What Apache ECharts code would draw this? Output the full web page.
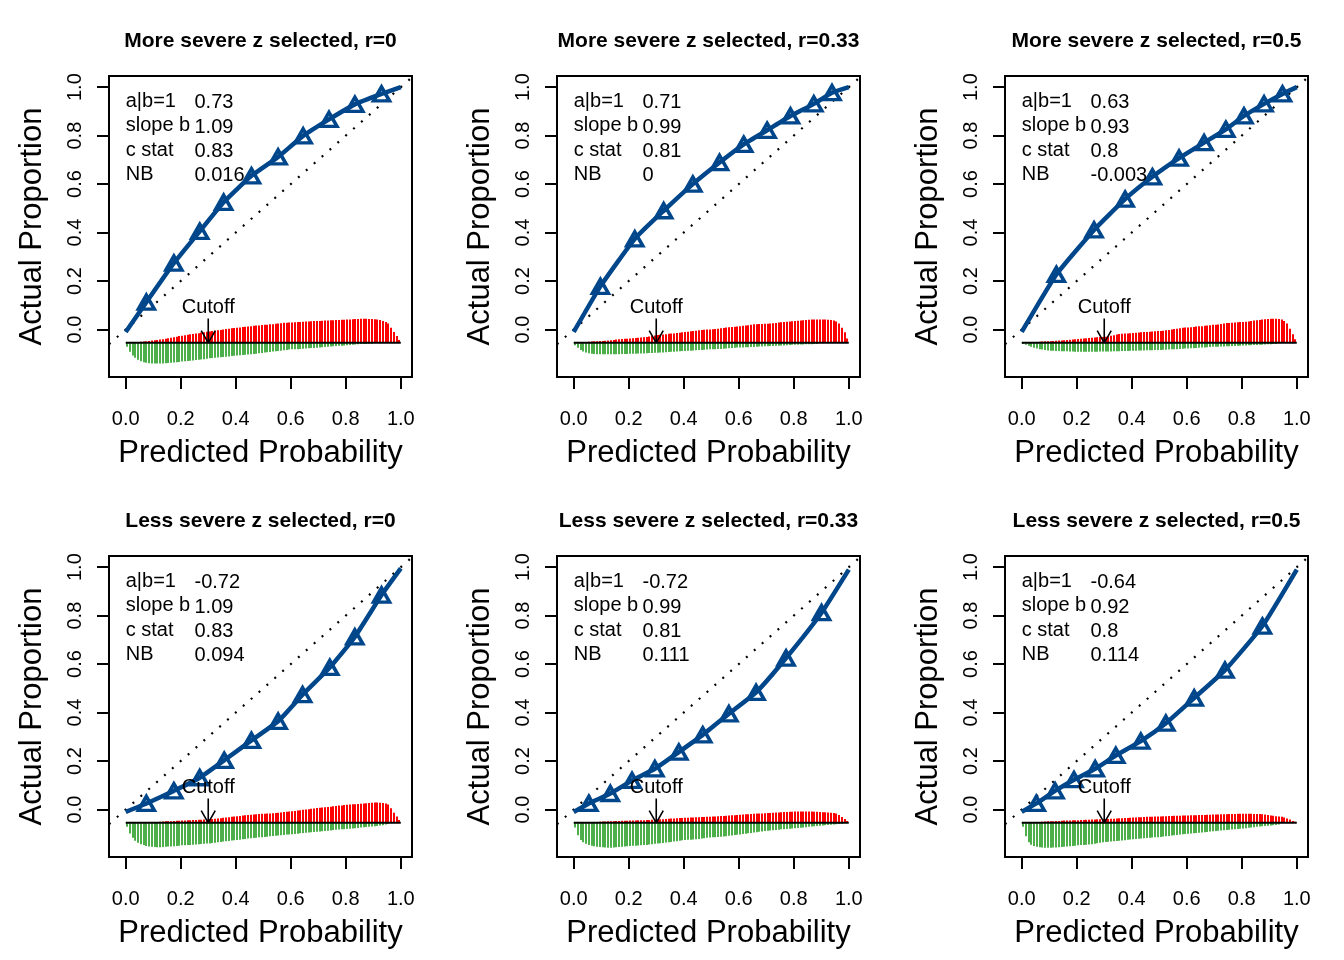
<!DOCTYPE html>
<html><head><meta charset="utf-8">
<script src="https://cdn.jsdelivr.net/npm/echarts@6/dist/echarts.min.js"></script>
<style>html,body{margin:0;padding:0;background:#fff}#c{width:1344px;height:960px}</style>
</head><body><div id="c"></div>
<script>
// ---------- DATA ----------
const titles = ['More severe z selected, r=0','More severe z selected, r=0.33','More severe z selected, r=0.5',
                'Less severe z selected, r=0','Less severe z selected, r=0.33','Less severe z selected, r=0.5'];
const statNames = ['a|b=1','slope b','c stat','NB'];
const aVals = ['0.73','0.71','0.63','-0.72','-0.72','-0.64'];
const slopeVals = ['1.09','0.99','0.93','1.09','0.99','0.92'];
const cVals = ['0.83','0.81','0.8','0.83','0.81','0.8'];
const nbVals = ['0.016','0','-0.003','0.094','0.111','0.114'];
const tickVals = [0, 0.2, 0.4, 0.6, 0.8, 1.0];
const cutoff = 0.3;

// grouped observations (triangles), x = predicted, y = actual
const tri1 = [[0.075,0.113],[0.175,0.274],[0.269,0.405],[0.356,0.525],[0.457,0.634],[0.554,0.712],[0.645,0.799],[0.739,0.867],[0.833,0.929],[0.930,0.972]];
const tri2 = [[0.097,0.178],[0.222,0.374],[0.327,0.490],[0.433,0.600],[0.530,0.689],[0.618,0.764],[0.703,0.822],[0.788,0.881],[0.873,0.931],[0.939,0.977]];
const tri3 = [[0.126,0.227],[0.263,0.411],[0.376,0.538],[0.475,0.630],[0.572,0.707],[0.663,0.771],[0.742,0.826],[0.808,0.881],[0.881,0.931],[0.948,0.972]];
const tri4 = [[0.075,0.025],[0.175,0.077],[0.269,0.131],[0.358,0.203],[0.457,0.285],[0.554,0.364],[0.643,0.474],[0.742,0.586],[0.833,0.712],[0.930,0.885]];
const tri5 = [[0.055,0.025],[0.133,0.066],[0.212,0.120],[0.295,0.168],[0.382,0.237],[0.469,0.308],[0.564,0.395],[0.663,0.483],[0.772,0.625],[0.901,0.812]];
const tri6 = [[0.053,0.025],[0.121,0.077],[0.190,0.123],[0.267,0.168],[0.342,0.223],[0.433,0.282],[0.524,0.356],[0.627,0.460],[0.739,0.575],[0.875,0.757]];
const curveStart = [[0,-0.01],[0,-0.01],[0,-0.01],[0,-0.01],[0,-0.01],[0,-0.01]];
const curveEnd = [[1,1.0],[1,1.0],[1,1.0],[1,0.995],[1,0.99],[1,0.99]];

// histogram heights per 0.01 bin (thousandths of y units); red = events above, green = non-events below
const red1 = [0,0,1,2,3,4,5,6,8,10, 11,12,14,15,17,19,21,23,25,28, 29,31,33,35,36,38,40,43,44,46, 47,49,50,52,53,55,57,58,60,61,
  62,63,65,66,67,68,70,71,72,74, 75,75,77,77,79,80,81,83,83,84, 84,85,86,86,87,88,88,89,90,90, 90,91,92,92,93,93,94,94,95,95,
  96,96,97,98,98,99,99,99,98,98, 97,96,94,90,86,80,62,45,28,12];
const green1 = [16,37,52,62,70,76,80,82,84,85, 85,85,85,85,84,83,82,81,80,79, 77,76,75,74,73,71,70,69,68,66, 64,63,62,61,59,58,57,56,54,53,
  52,51,50,49,48,47,46,45,43,42, 40,39,38,36,35,34,33,31,30,28, 27,26,26,25,24,23,22,21,21,20, 19,18,17,16,15,14,13,12,12,11,
  10,9,8,7,6,5,5,5,4,4, 0,0,0,0,0,0,0,0,0,0];
const red2 = [0,0,1,2,3,4,5,6,7,8, 8,9,10,11,12,14,15,16,17,17, 18,19,20,21,22,23,24,26,28,30, 32,33,34,35,37,38,39,41,42,44,
  45,46,48,49,50,52,53,54,55,55, 56,57,58,60,61,63,64,65,66,67, 68,70,72,73,75,77,77,78,78,79, 79,80,81,82,84,85,86,87,88,89,
  90,91,92,93,94,95,96,96,96,96, 96,96,95,94,92,88,80,62,44,18];
const green2 = [10,20,30,36,40,43,45,46,47,47, 47,47,47,47,47,47,47,46,46,46, 45,45,45,44,44,44,43,42,42,41, 41,40,40,39,38,37,37,36,35,34,
  34,33,33,32,31,30,30,29,28,27, 27,26,25,25,24,23,22,21,20,19, 19,19,18,18,17,17,16,15,15,14, 14,13,13,12,12,11,11,10,9,8,
  8,8,7,7,6,6,6,5,5,0, 0,0,0,0,0,0,0,0,0,0];
const red3 = [0,0,0,1,2,3,4,5,6,6, 7,8,9,10,10,11,12,13,14,15, 16,17,18,19,20,21,22,23,24,24, 25,27,29,31,34,36,37,38,39,40,
  41,42,43,44,45,45,46,47,48,49, 49,50,52,53,55,57,58,60,62,63, 63,64,65,67,68,68,70,72,73,75, 75,76,78,80,82,82,83,84,85,86,
  86,87,88,90,92,93,94,96,97,98, 99,99,99,98,96,90,80,58,35,15];
const green3 = [5,8,12,16,20,23,26,28,30,32, 33,33,34,34,35,35,35,36,36,37, 37,37,37,37,37,37,37,37,36,36, 36,36,36,35,35,35,34,34,34,33,
  33,33,32,32,32,31,31,31,30,30, 30,29,29,28,27,26,26,25,24,23, 23,22,22,21,20,19,19,18,17,16, 16,16,15,15,14,14,13,13,12,12,
  11,11,10,10,9,9,8,8,7,6, 6,5,5,0,0,0,0,0,0,0];
const red4 = [0,0,0,0,0,0,0,0,0,0, 0,0,4,5,6,6,7,8,9,9, 10,10,11,11,12,12,13,13,14,14, 15,16,17,18,19,21,22,23,25,26,
  27,28,30,31,32,33,34,35,36,37, 37,38,39,40,41,42,43,45,46,47, 48,49,51,52,54,55,56,58,59,61, 62,63,64,65,66,68,69,71,72,74,
  75,76,77,77,78,79,80,81,82,83, 84,84,83,82,80,76,60,42,26,12];
const green4 = [16,44,62,74,82,88,92,96,98,99, 100,101,101,100,99,98,98,97,96,95, 93,93,92,91,90,89,88,87,86,85, 85,83,82,80,79,77,76,75,73,72,
  71,70,68,67,65,64,63,62,60,59, 58,57,55,54,53,52,51,50,48,48, 47,46,45,43,42,41,40,39,38,37, 36,35,34,33,32,30,29,28,27,26,
  25,24,23,22,21,19,18,17,16,15, 14,13,11,10,7,5,0,0,0,0];
const red5 = [0,0,0,0,0,0,0,0,3,4, 5,5,6,6,7,8,8,9,9,9, 10,10,10,11,11,11,12,12,13,13, 14,15,15,16,17,18,18,19,20,20,
  21,21,22,22,23,23,24,24,25,25, 26,26,27,28,28,29,30,31,31,32, 33,34,35,35,36,37,38,38,39,40, 41,41,42,43,43,44,45,45,46,46,
  47,47,47,47,47,47,47,46,46,45, 44,44,43,42,41,38,32,24,16,8];
const green5 = [19,51,71,80,86,91,95,97,99,100, 101,102,103,103,102,101,100,99,98,97, 96,95,95,94,93,92,91,89,88,86, 85,84,83,81,80,79,77,76,74,72,
  71,70,70,69,68,67,65,64,62,61, 60,59,58,57,56,55,53,52,50,49, 48,46,45,43,42,40,39,37,36,34, 33,32,31,30,29,27,26,25,24,23,
  22,21,20,19,18,16,15,14,13,12, 11,10,9,8,7,6,5,4,0,0];
const red6 = [0,0,0,0,0,0,0,4,5,6, 7,7,8,8,9,10,10,10,11,11, 11,12,12,13,13,14,14,15,15,16, 16,16,17,17,18,19,19,20,20,21,
  22,22,23,23,24,25,25,25,26,26, 26,27,27,28,28,29,29,29,30,30, 30,31,31,31,32,32,32,33,33,34, 34,34,35,35,35,36,36,36,37,37,
  37,37,37,37,36,36,36,35,34,32, 30,29,27,26,25,22,18,14,8,4];
const green6 = [16,55,80,90,96,99,101,102,103,103, 103,102,102,101,100,99,98,97,96,95, 93,92,91,90,89,88,86,84,82,80, 79,78,77,76,75,74,73,72,70,69,
  68,67,66,65,64,63,62,61,60,59, 58,56,55,54,52,51,50,48,47,46, 45,44,43,42,41,40,39,38,36,35, 34,33,32,31,30,29,28,26,25,24,
  23,22,20,19,18,16,15,14,13,12, 11,10,9,7,0,0,0,0,0,0];

const tris = [tri1,tri2,tri3,tri4,tri5,tri6];
const reds = [red1,red2,red3,red4,red5,red6];
const greens = [green1,green2,green3,green4,green5,green6];

// ---------- LAYOUT ----------
const FONT = '"Liberation Sans", Arial, sans-serif';
const BLUE = '#00468B', RED = '#FF0000', GREEN = '#4DAF4A';
const X_MIN = -0.0608, X_MAX = 1.0408, Y_MIN = -0.196, Y_MAX = 1.046;
const BASE = -0.055, BIN = 0.01;
const lefts = [109, 557, 1005], tops = [76, 556], GW = 303, GH = 301;

const grids = [], xAxes = [], yAxes = [], series = [], titleOpts = [];

function histRender(color, sign) {
  return function (params, api) {
    const x = api.value(0), h = api.value(1);
    if (!h) return null;
    const c = api.coord([x, BASE]);
    const p1 = api.coord([x, BASE + sign * h]);
    const left = Math.round(c[0] - 1);
    return { type: 'rect', shape: { x: left, y: Math.min(c[1], p1[1]), width: 2, height: Math.abs(p1[1] - c[1]) },
             style: { fill: color } };
  };
}

for (let k = 0; k < 6; k++) {
  const col = k % 3, row = Math.floor(k / 3);
  const L = lefts[col], T = tops[row];
  grids.push({ left: L, top: T, width: GW, height: GH, show: true, borderColor: '#000', borderWidth: 2, backgroundColor: 'transparent' });
  xAxes.push({ gridIndex: k, type: 'value', min: X_MIN, max: X_MAX, splitLine: { show: false },
    axisLine: { show: false, onZero: false },
    axisTick: { show: true, inside: false, length: 12, lineStyle: { color: '#000', width: 2 }, customValues: tickVals },
    axisLabel: { show: true, margin: 32, fontSize: 20, color: '#000', fontFamily: FONT, customValues: tickVals, formatter: v => v.toFixed(1) },
    name: 'Predicted Probability', nameLocation: 'middle', nameGap: 61,
    nameTextStyle: { fontSize: 31, color: '#000', fontFamily: FONT } });
  yAxes.push({ gridIndex: k, type: 'value', min: Y_MIN, max: Y_MAX, splitLine: { show: false },
    axisLine: { show: false, onZero: false },
    axisTick: { show: true, inside: false, length: 12, lineStyle: { color: '#000', width: 2 }, customValues: tickVals },
    axisLabel: { show: true, margin: 24, rotate: 90, fontSize: 20, color: '#000', fontFamily: FONT, customValues: tickVals, formatter: v => v.toFixed(1) },
    name: 'Actual Proportion', nameLocation: 'middle', nameGap: 61, nameRotate: 90,
    nameTextStyle: { fontSize: 31, color: '#000', fontFamily: FONT } });
  titleOpts.push({ text: titles[k], left: L + GW / 2, top: T - 45, textAlign: 'center', padding: 0,
    textStyle: { fontSize: 21, fontWeight: 'bold', color: '#000', fontFamily: FONT } });

  const ax = { xAxisIndex: k, yAxisIndex: k };
  // diagonal reference line
  series.push(Object.assign({ type: 'line', data: [[X_MIN, X_MIN], [X_MAX, X_MAX]], symbol: 'none', silent: true, z: 2,
    lineStyle: { color: '#000', width: 2.2, type: [2, 8.5] } }, ax));
  // histograms
  const binsR = reds[k].map((v, i) => [(i + 0.5) * BIN, v / 1000]);
  const binsG = greens[k].map((v, i) => [(i + 0.5) * BIN, v / 1000]);
  series.push(Object.assign({ type: 'custom', renderItem: histRender(RED, 1), data: binsR, z: 3, silent: true }, ax));
  series.push(Object.assign({ type: 'custom', renderItem: histRender(GREEN, -1), data: binsG, z: 3, silent: true }, ax));
  // baseline
  series.push(Object.assign({ type: 'line', data: [[0, BASE], [1, BASE]], symbol: 'none', silent: true, z: 4,
    lineStyle: { color: '#000', width: 2 } }, ax));
  // cutoff arrow
  series.push(Object.assign({ type: 'line', data: [[cutoff, 0.045], [cutoff, BASE]], symbol: 'none', silent: true, z: 5,
    lineStyle: { color: '#000', width: 1.6 } }, ax));
  series.push(Object.assign({ type: 'line', data: [[cutoff - 0.0255, BASE + 0.05], [cutoff, BASE], [cutoff + 0.0255, BASE + 0.05]],
    symbol: 'none', silent: true, z: 5, lineStyle: { color: '#000', width: 1.6 } }, ax));
  // calibration curve
  const curve = [curveStart[k]].concat(tris[k]).concat([curveEnd[k]]);
  series.push(Object.assign({ type: 'line', data: curve, symbol: 'none', smooth: 0.15, silent: true, z: 6,
    lineStyle: { color: BLUE, width: 4.5 } }, ax));
  series.push(Object.assign({ type: 'scatter', data: tris[k], symbol: 'triangle', symbolSize: [16, 14], silent: true, z: 7,
    itemStyle: { color: 'rgba(255,255,255,0)', borderColor: BLUE, borderWidth: 3.5, opacity: 1 } }, ax));
  // stats text
  const vals = [aVals[k], slopeVals[k], cVals[k], nbVals[k]];
  const rowsY = [0.94, 0.84, 0.74, 0.64];
  const txt = { show: true, position: [0, 0], align: 'left', verticalAlign: 'middle', fontSize: 20, color: '#000',
    textBorderWidth: 0, textBorderColor: 'transparent', fontFamily: FONT, formatter: '{b}' };
  const txtItem = { opacity: 1 };
  series.push(Object.assign({ type: 'scatter', symbolSize: 0, silent: true, z: 8, label: txt, itemStyle: txtItem,
    data: statNames.map((n, i) => ({ name: n, value: [0.0, rowsY[i]] })) }, ax));
  series.push(Object.assign({ type: 'scatter', symbolSize: 0, silent: true, z: 8, label: txt, itemStyle: txtItem,
    data: vals.map((n, i) => ({ name: n, value: [0.25, rowsY[i] - 0.005] })) }, ax));
  series.push(Object.assign({ type: 'scatter', symbolSize: 0, silent: true, z: 8, itemStyle: txtItem,
    label: Object.assign({}, txt, { align: 'center' }),
    data: [{ name: 'Cutoff', value: [cutoff, 0.092] }] }, ax));
}

const chart = echarts.init(document.getElementById('c'), null, { renderer: 'canvas', width: 1344, height: 960 });
chart.setOption({ backgroundColor: '#fff', animation: false, title: titleOpts, grid: grids, xAxis: xAxes, yAxis: yAxes, series: series });
</script></body></html>
